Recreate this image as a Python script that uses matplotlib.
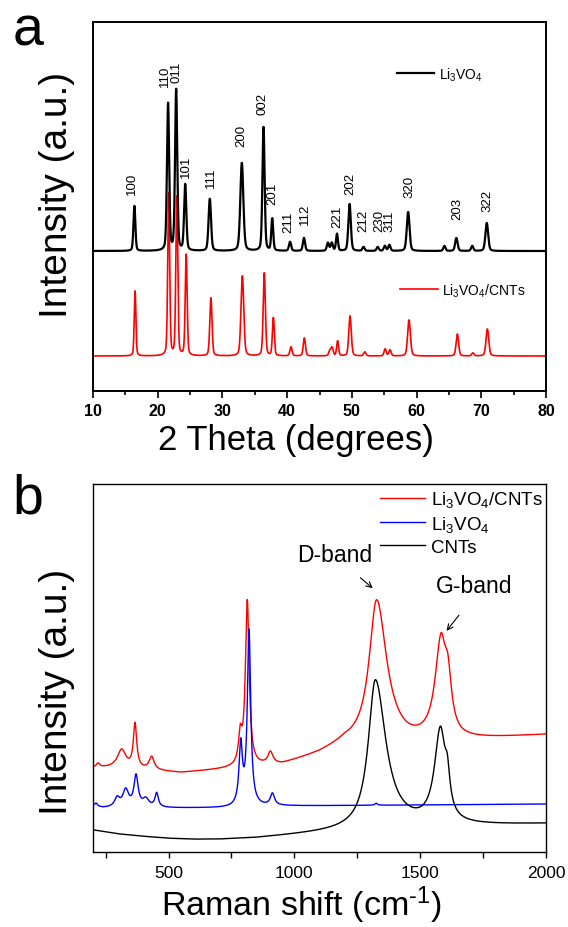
import numpy as np
import matplotlib
matplotlib.use('Agg')
import matplotlib.pyplot as plt

plt.rcParams['font.family'] = ['Liberation Sans', 'DejaVu Sans']
plt.rcParams['mathtext.fontset'] = 'custom'
plt.rcParams['mathtext.rm'] = 'Liberation Sans'
plt.rcParams['mathtext.default'] = 'regular'

NARROW = ['Liberation Sans Narrow', 'Liberation Sans']

# ---------------- panel a : XRD ----------------
# Li3VO4 : peak 2theta (deg), height (a.u.), FWHM (deg)
lvo_pos = [16.4, 21.6, 22.85, 24.25, 28.05, 33.0, 36.35, 37.7, 40.45, 42.6,
           46.3, 46.9, 47.7, 49.65, 51.8, 54.0, 55.1, 55.8, 58.7, 64.3,
           66.15, 68.6, 70.85]
lvo_hgt = [45, 147, 161, 66, 52, 88, 124, 32, 9, 13,
           8, 8, 17, 47, 4, 4, 5, 6, 39, 5,
           13, 5, 28]
lvo_fwhm = [0.35, 0.4, 0.4, 0.4, 0.45, 0.55, 0.4, 0.35, 0.4, 0.4,
            0.4, 0.4, 0.35, 0.45, 0.4, 0.4, 0.4, 0.4, 0.5, 0.4,
            0.45, 0.4, 0.5]
lvo_base = 140

# Li3VO4/CNTs
lvc_pos = [16.5, 21.7, 22.95, 24.4, 28.22, 33.08, 36.47, 37.87, 40.6, 42.66,
           46.6, 46.95, 47.8, 49.72, 52.0, 55.15, 55.9, 58.83, 66.3, 68.7,
           70.94]
lvc_hgt = [65, 162, 159, 101, 58, 80, 83, 38, 9, 18,
           5, 8, 15, 40, 4, 7, 6, 36, 22, 3,
           27]
lvc_fwhm = [0.3, 0.35, 0.35, 0.35, 0.4, 0.5, 0.4, 0.35, 0.4, 0.4,
            0.4, 0.4, 0.35, 0.45, 0.4, 0.4, 0.4, 0.5, 0.45, 0.4,
            0.5]
lvc_base = 35

# hkl labels: text, 2theta, bottom of text (a.u.)
hkl_txt = ['100', '110', '011', '101', '111', '200', '002', '201', '211', '112',
           '221', '202', '212', '230', '311', '320', '203', '322']
hkl_x = [16.03, 21.13, 22.93, 24.37, 28.19, 32.98, 36.22, 37.71, 40.18, 42.76,
         47.75, 49.72, 51.77, 54.2, 55.79, 58.88, 66.3, 71.0]
hkl_y = [197, 305, 309, 214, 204, 245, 277, 187, 159, 167,
         164, 197, 160, 160, 160, 194, 172, 180]

# ---------------- panel b : Raman ----------------
# CNTs
cnt_bw = [200, 300, 400, 500, 600, 700, 850, 1000, 1200, 1700, 2000]
cnt_bh = [22, 18, 15.5, 13.5, 12.5, 12.5, 14, 17, 21, 26, 28]
cnt_c = [1322, 1580, 1608]
cnt_a = [149, 91, 30]
cnt_gl = [34, 28, 12]
cnt_gr = [50, 24, 12]

# Li3VO4/CNTs
mix_bw = [200, 300, 550, 750, 950, 1100, 1200, 1450, 1700, 2000]
mix_bh = [84, 84, 79, 83, 87, 98, 108, 106, 112, 117]
mix_c = [220, 314, 367, 433, 785, 813, 905, 1327, 1582, 1610]
mix_a = [4, 18, 44, 13, 28, 165, 12, 144, 90, 50]
mix_gl = [8, 20, 8, 12, 8, 9, 12, 36, 28, 18]
mix_gr = [8, 20, 8, 12, 8, 9, 12, 48, 22, 18]

# Li3VO4
lv_bw = [200, 240, 500, 750, 950, 2000]
lv_bh = [46, 44, 44, 44, 46, 48]
lv_c = [212, 296, 330, 371, 410, 453, 787, 820, 913, 1325]
lv_a = [3, 9, 17, 31, 8, 14, 60, 175, 12, 2]
lv_g = [6, 12, 14, 10, 15, 8, 8, 8, 10, 6]


def pvoigt(x, c, h, w, eta=0.3):
    g = np.exp(-4 * np.log(2) * ((x - c) / w) ** 2)
    l = 1.0 / (1 + 4 * ((x - c) / w) ** 2)
    return h * (eta * l + (1 - eta) * g)


def xrd(x, pos, hgt, fwhm, base):
    y = np.full_like(x, float(base))
    for c, h, w in zip(pos, hgt, fwhm):
        y += pvoigt(x, c, h, w)
    return y


def raman(x, bw, bh, cen, amp, gl, gr):
    y = np.interp(x, bw, bh)
    for c, a, l, r in zip(cen, amp, gl, gr):
        g = np.where(x < c, l, r)
        y += a / (1 + ((x - c) / g) ** 2)
    return y


fig = plt.figure(figsize=(5.68, 9.28), dpi=100)

##########
# Panel a
ax1 = fig.add_axes([93 / 568, 1 - 392 / 928, 453 / 568, 369 / 928])
tt = np.arange(10, 80.001, 0.02)
l_red, = ax1.plot(tt, xrd(tt, lvc_pos, lvc_hgt, lvc_fwhm, lvc_base), color='#ff0000', lw=1.2)
l_blk, = ax1.plot(tt, xrd(tt, lvo_pos, lvo_hgt, lvo_fwhm, lvo_base), color='k', lw=1.6)

for t, x, y in zip(hkl_txt, hkl_x, hkl_y):
    ax1.text(x, y, t, rotation=90, ha='center', va='bottom', fontsize=9.5, family=NARROW)

ax1.set_xlim(10, 80)
ax1.set_ylim(0, 369)
ax1.set_yticks([])
ax1.set_xticks(np.arange(10, 81, 10))
ax1.set_xticks(np.arange(15, 80, 10), minor=True)
ax1.tick_params(axis='x', which='major', length=5, width=1.2, direction='out', pad=3.5)
ax1.tick_params(axis='x', which='minor', length=3, width=1.2, direction='out')
for lab in ax1.get_xticklabels():
    lab.set_family(NARROW)
    lab.set_fontweight('bold')
    lab.set_fontsize(11.5)
for sp in ax1.spines.values():
    sp.set_linewidth(1.4)

leg1 = ax1.legend([l_blk], ['Li$_3$VO$_4$'], loc='center left', bbox_to_anchor=(0.671, 0.859),
                  frameon=False, fontsize=10, handlelength=2.7, handletextpad=0.35,
                  borderpad=0, borderaxespad=0)
ax1.add_artist(leg1)
ax1.legend([l_red], ['Li$_3$VO$_4$/CNTs'], loc='center left', bbox_to_anchor=(0.678, 0.274),
           frameon=False, fontsize=10, handlelength=2.7, handletextpad=0.35,
           borderpad=0, borderaxespad=0)

fig.text(296 / 568, 1 - 450 / 928, '2 Theta (degrees)', ha='center', va='baseline', fontsize=25)
fig.text(57 / 568, 1 - 195 / 928, 'Intensity (a.u.)', ha='center', va='center',
         rotation=90, fontsize=28)
fig.text(28 / 568, 1 - 31 / 928, 'a', ha='center', va='center', fontsize=40)

##########
# Panel b
ax2 = fig.add_axes([93 / 568, 1 - 853 / 928, 453 / 568, 368 / 928])
ww = np.arange(200, 2000.1, 1.0)
r1, = ax2.plot(ww, raman(ww, mix_bw, mix_bh, mix_c, mix_a, mix_gl, mix_gr), color='#ff0000', lw=1.0)
r2, = ax2.plot(ww, raman(ww, lv_bw, lv_bh, lv_c, lv_a, lv_g, lv_g), color='#0000ff', lw=1.0)
r3, = ax2.plot(ww, raman(ww, cnt_bw, cnt_bh, cnt_c, cnt_a, cnt_gl, cnt_gr), color='k', lw=1.0)

ax2.set_xlim(200, 2000)
ax2.set_ylim(0, 368)
ax2.set_yticks([])
ax2.set_xticks([500, 1000, 1500, 2000])
ax2.set_xticks(np.arange(250, 2000, 250), minor=True)
ax2.tick_params(axis='x', which='both', length=4, width=1.0, direction='out', pad=5.5,
                labelsize=12.5)
for sp in ax2.spines.values():
    sp.set_linewidth(1.0)

ax2.legend([r1, r2, r3], ['Li$_3$VO$_4$/CNTs', 'Li$_3$VO$_4$', 'CNTs'], loc='upper left',
           bbox_to_anchor=(0.6336, 0.986), frameon=False, fontsize=13.5, handlelength=2.4,
           handletextpad=0.3, labelspacing=0.25, borderpad=0, borderaxespad=0)

ax2.annotate('', xy=(1320, 262), xytext=(1254, 276),
             arrowprops=dict(arrowstyle='->', color='k', lw=0.8))
ax2.annotate('', xy=(1598, 219), xytext=(1661, 239),
             arrowprops=dict(arrowstyle='->', color='k', lw=0.8))
ax2.text(1161, 291, 'D-band', ha='center', va='baseline', fontsize=16.5)
ax2.text(1716, 260, 'G-band', ha='center', va='baseline', fontsize=16.5)

fig.text(301.5 / 568, 1 - 916 / 928, r'Raman shift (cm$^{\text{-}1}$)', ha='center',
         va='baseline', fontsize=24.5)
fig.text(57 / 568, 1 - 692 / 928, 'Intensity (a.u.)', ha='center', va='center',
         rotation=90, fontsize=28)
fig.text(28 / 568, 1 - 500 / 928, 'b', ha='center', va='center', fontsize=40)

fig.savefig('out.png', dpi=100)
